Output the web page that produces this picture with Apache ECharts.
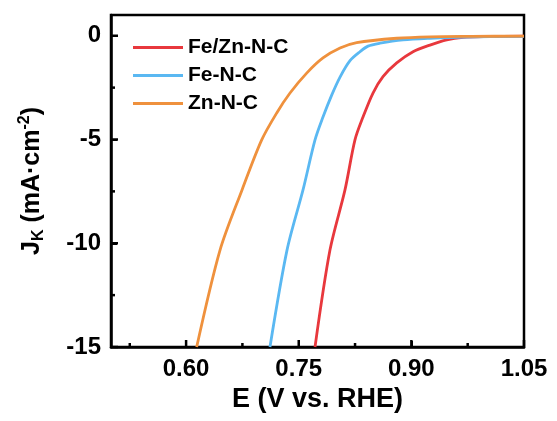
<!DOCTYPE html>
<html>
<head>
<meta charset="utf-8">
<script src="https://cdn.jsdelivr.net/npm/echarts@6/dist/echarts.min.js"></script>
</head>
<body style="margin:0">
<div id="root" style="width:557px;height:421px"></div>
<script>
// values: [E (V vs. RHE), Jk (mA/cm2)]
const seriesNames = ['Fe/Zn-N-C', 'Fe-N-C', 'Zn-N-C']
const seriesColors = ['#E8383D', '#5AB8F2', '#EF913D']

const feZnNC = [
  [0.7717, -15], [0.7916, -10.33], [0.8116, -7.43], [0.8249, -5.02],
  [0.8356, -3.92], [0.8489, -2.76], [0.8622, -1.97], [0.8805, -1.31], [0.9022, -0.77],
  [0.9248, -0.45], [0.9471, -0.2], [0.9688, -0.08], [1.0, -0.04], [1.05, -0.02]
]
const feNC = [
  [0.7117, -15], [0.7344, -10.33], [0.7557, -7.43], [0.7717, -5.02], [0.7823, -3.92],
  [0.7939, -2.86], [0.805, -1.99], [0.8183, -1.2], [0.8316, -0.77], [0.8423, -0.5],
  [0.8582, -0.36], [0.8889, -0.2], [0.9248, -0.12], [0.97, -0.06], [1.05, -0.03]
]
const znNC = [
  [0.6141, -15], [0.6452, -10.33], [0.6745, -7.43], [0.7007, -5.02], [0.7207, -3.72],
  [0.7384, -2.76], [0.7606, -1.8], [0.7823, -1.07], [0.805, -0.59], [0.8272, -0.33],
  [0.8805, -0.12], [0.9248, -0.05], [0.98, -0.03], [1.05, -0.02]
]
const seriesData = [feZnNC, feNC, znNC]

const xTicks = [0.60, 0.75, 0.90, 1.05]
const xMinorTicks = [0.525, 0.675, 0.825, 0.975]
const yTicks = [-15, -10, -5, 0]
const yMinorTicks = [-12.5, -7.5, -2.5]

const font = '"Liberation Sans", Arial, sans-serif'
const tickColor = '#000'

// inward tick marks, placed with the axes' own scales
const tickSeries = (values, dim, len) => ({
  type: 'custom',
  silent: true,
  clip: false,
  z: 10,
  data: values.map(v => dim === 'x' ? [v, -15] : [0.5, v]),
  renderItem: (params, api) => {
    const cs = params.coordSys
    const p = api.coord([api.value(0), api.value(1)])
    const shape = dim === 'x'
      ? { x1: p[0], y1: cs.y + cs.height, x2: p[0], y2: cs.y + cs.height - len }
      : { x1: cs.x, y1: p[1], x2: cs.x + len, y2: p[1] }
    return { type: 'line', shape, style: { stroke: tickColor, lineWidth: 2.5 } }
  }
})

const myChart = echarts.init(document.getElementById('root'))
const option = {
  animation: false,
  grid: { left: 111, right: 33, top: 15, bottom: 74, show: true, borderColor: '#000', borderWidth: 2.5 },
  legend: {
    orient: 'vertical',
    left: 133,
    top: 37,
    padding: 0,
    itemGap: 7,
    itemWidth: 50,
    itemHeight: 3,
    icon: 'rect',
    data: seriesNames,
    textStyle: { fontFamily: font, fontWeight: 'bold', fontSize: 21, lineHeight: 20, color: '#000' }
  },
  xAxis: {
    type: 'value', min: 0.5, max: 1.05,
    name: 'E (V vs. RHE)', nameLocation: 'middle', nameGap: 37,
    nameTextStyle: { fontFamily: font, fontWeight: 'bold', fontSize: 27, color: '#000' },
    axisLine: { show: true, onZero: false, lineStyle: { color: '#000', width: 2.5 } },
    axisTick: { show: true, inside: true, length: 6, customValues: xTicks, lineStyle: { color: tickColor, width: 2 } },
    axisLabel: {
      customValues: xTicks, margin: 10,
      fontFamily: font, fontWeight: 'bold', fontSize: 24, color: '#000',
      formatter: v => v.toFixed(2)
    },
    splitLine: { show: false }
  },
  yAxis: {
    type: 'value', min: -15, max: 1,
    name: '{a|J}{sub|K}{a| (mA·cm}{sup|-2}{a|)}', nameLocation: 'middle', nameGap: 64,
    nameTextStyle: {
      rich: {
        a: { fontFamily: font, fontWeight: 'bold', fontSize: 25, lineHeight: 30, color: '#000' },
        sub: { fontFamily: font, fontWeight: 'bold', fontSize: 16, lineHeight: 30, verticalAlign: 'bottom', color: '#000' },
        sup: { fontFamily: font, fontWeight: 'bold', fontSize: 16, lineHeight: 30, verticalAlign: 'top', color: '#000' }
      }
    },
    axisLine: { show: true, onZero: false, lineStyle: { color: '#000', width: 2.5 } },
    axisTick: { show: true, inside: true, length: 6, customValues: yTicks, lineStyle: { color: tickColor, width: 2 } },
    axisLabel: {
      customValues: yTicks, margin: 10,
      fontFamily: font, fontWeight: 'bold', fontSize: 24, color: '#000'
    },
    splitLine: { show: false }
  },
  series: seriesNames.map((name, i) => ({
    name,
    type: 'line',
    data: seriesData[i],
    smooth: 0.3,
    showSymbol: false,
    clip: true,
    color: seriesColors[i],
    lineStyle: { width: 2.8, color: seriesColors[i] }
  })).concat([
    tickSeries(xTicks, 'x', 7),
    tickSeries(xMinorTicks, 'x', 4),
    tickSeries(yTicks, 'y', 7),
    tickSeries(yMinorTicks, 'y', 4)
  ])
}
myChart.setOption(option)
</script>
</body>
</html>
